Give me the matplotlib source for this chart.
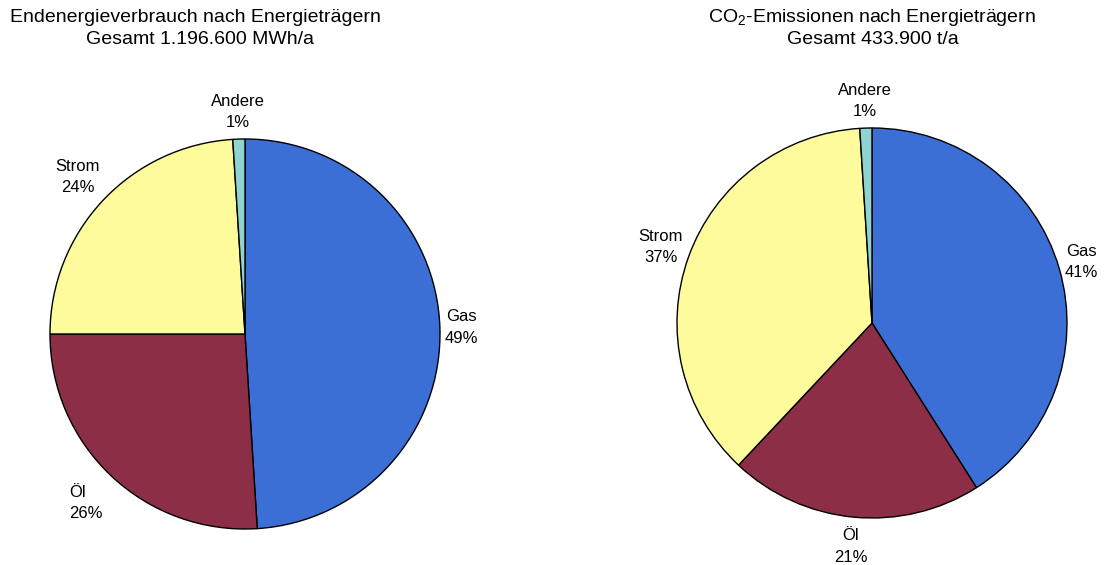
import numpy as np
import matplotlib.pyplot as plt

plt.rcParams['font.family'] = ['Liberation Sans', 'DejaVu Sans']
plt.rcParams['mathtext.fontset'] = 'custom'
plt.rcParams['mathtext.rm'] = 'Liberation Sans'

categories = ['Gas', 'Öl', 'Strom', 'Andere']
energie_pct = [49, 26, 24, 1]
co2_pct = [41, 21, 37, 1]
colors = ['#3b6fd5', '#8c2f46', '#fdfb9c', '#8fd4d0']

W, H = 1106, 565
fig = plt.figure(figsize=(W / 100, H / 100), dpi=100)
ax = fig.add_axes([0, 0, 1, 1])


def draw_pie(values, cx, cy, r, label_dist, aligns):
    ax.pie(values, colors=colors, startangle=90, counterclock=False,
           center=(cx, H - cy), radius=r, frame=True,
           wedgeprops=dict(edgecolor='black', linewidth=1.0))
    total = float(sum(values))
    cum = np.cumsum(values) - np.array(values) / 2.0
    for name, v, c, d, al in zip(categories, values, cum, label_dist, aligns):
        th = np.deg2rad(90 - 360 * c / total)
        x = cx + d * r * np.cos(th)
        y = H - cy + d * r * np.sin(th)
        ax.text(x, y, f'{name}\n{v}%', ha='center', va='center',
                multialignment=al, fontsize=12, linespacing=1.55)


draw_pie(energie_pct, 245, 334, 195, [1.11, 1.19, 1.175, 1.14],
         ['center', 'left', 'center', 'center'])
draw_pie(co2_pct, 872, 323, 195, [1.12, 1.15, 1.15, 1.14],
         ['center', 'center', 'center', 'center'])

ax.text(195, H - 17, 'Endenergieverbrauch nach Energieträgern', ha='center', va='center', fontsize=14)
ax.text(200, H - 40, 'Gesamt 1.196.600 MWh/a', ha='center', va='center', fontsize=14)
ax.text(872, H - 17, r'CO$_\mathrm{2}$-Emissionen nach Energieträgern', ha='center', va='center', fontsize=14)
ax.text(873, H - 40, 'Gesamt 433.900 t/a', ha='center', va='center', fontsize=14)

ax.set_xlim(0, W)
ax.set_ylim(0, H)
ax.set_aspect('auto')
ax.axis('off')

fig.savefig('out.png', dpi=100)
